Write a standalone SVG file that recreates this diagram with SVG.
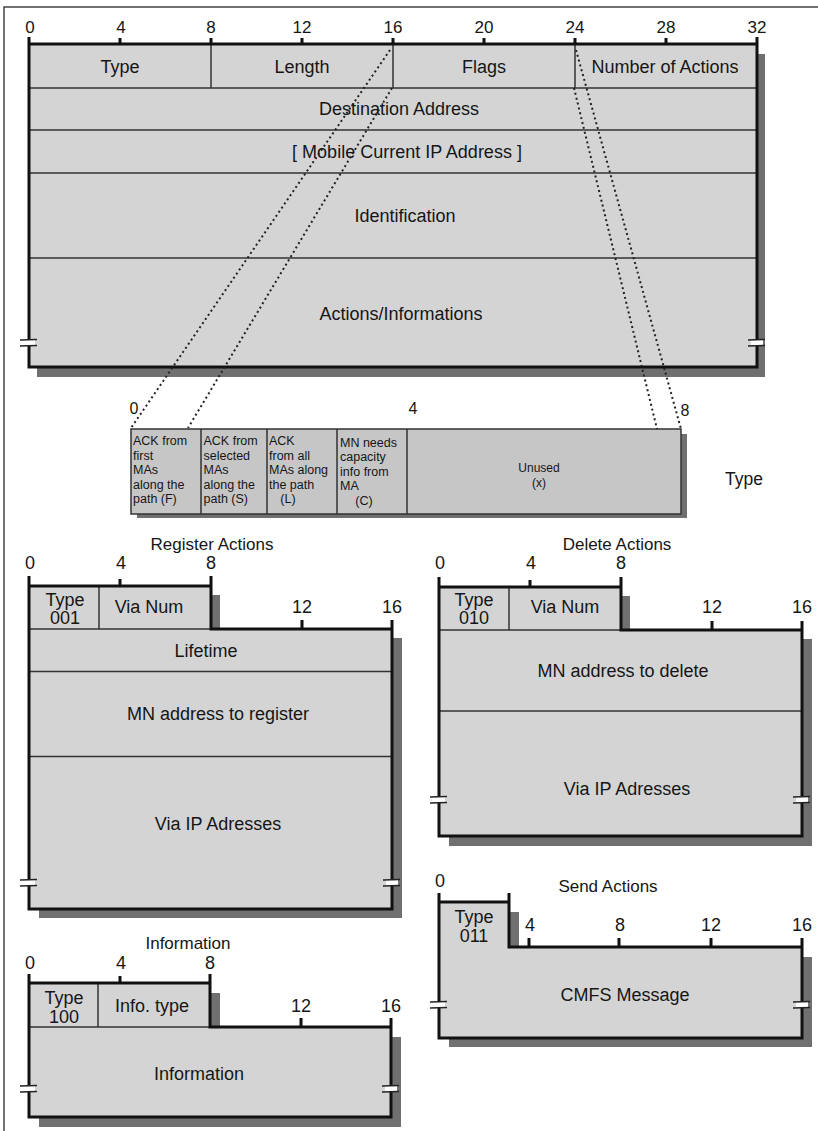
<svg xmlns="http://www.w3.org/2000/svg" width="818" height="1131" viewBox="0 0 818 1131">
<style>
.f{fill:#d4d4d4}
.fd{fill:#c6c6c6}
.sh{fill:#707070}
.k{stroke:#111;stroke-width:3;fill:none}
.r{stroke:#333;stroke-width:1.5;fill:none}
.d{stroke:#222;stroke-width:2;stroke-dasharray:2 3;fill:none}
.frame{stroke:#444;stroke-width:1.5;fill:none}
text{font-family:"Liberation Sans",Arial,Helvetica,sans-serif;fill:#161616}
.c{text-anchor:middle}
.l{font-size:18px}
.n{font-size:17px}
.m{font-size:18px}
.s{font-size:12.5px}
.u{font-size:12px}
.t{font-size:17px}
.bk{stroke:#222;stroke-width:1.5}
</style>
<defs>
<g id="brk"><rect x="-6" y="-3" width="12" height="6" fill="#fff"/><line class="bk" x1="-9" y1="-3" x2="8" y2="-3.5"/><line class="bk" x1="-9" y1="3" x2="8" y2="2.5"/></g>
</defs>
<rect width="818" height="1131" fill="#fff"/>
<path class="frame" d="M4 1131V7H818"/>

<g id="header">
<rect class="sh" x="37" y="54" width="728" height="323"/>
<rect class="f" x="29" y="44" width="728" height="323"/>
<path class="r" d="M29 88H757M29 130H757M29 173H757M29 258H757M211 44V88M393 44V88M575 44V88"/>
<path class="k" d="M29 37V367H757V37M29 44H757"/>
<path class="k" stroke-width="2.5" d="M120 38V44M211 38V44M302 38V44M393 38V44M484 38V44M575 38V44M666 38V44"/>
<use href="#brk" x="29" y="343"/>
<use href="#brk" x="757" y="343"/>
<g class="n c">
<text x="30" y="33">0</text><text x="121" y="33">4</text><text x="211" y="33">8</text><text x="302" y="33">12</text><text x="393" y="33">16</text><text x="484" y="33">20</text><text x="575" y="33">24</text><text x="666" y="33">28</text><text x="757" y="33">32</text>
</g>
<g class="l c">
<text x="120" y="72.5">Type</text>
<text x="302" y="72.5">Length</text>
<text x="484" y="72.5">Flags</text>
<text x="665" y="72.5">Number of Actions</text>
<text x="399" y="115">Destination Address</text>
<text x="407" y="158">[ Mobile Current IP Address ]</text>
<text x="405" y="222">Identification</text>
<text x="401" y="320">Actions/Informations</text>
</g>
</g>

<g id="type-flags">
<rect class="sh" x="137" y="434" width="550" height="84"/>
<rect class="fd" x="131" y="429" width="550" height="85" stroke="#333" stroke-width="1.5"/>
<path class="r" d="M201 429V514M267 429V514M337 429V514M407 429V514"/>
<g class="n c" style="font-size:16px">
<text x="134" y="414">0</text><text x="413" y="414">4</text><text x="685" y="416">8</text>
</g>
<g class="s">
<text x="133" y="445">ACK from</text><text x="133" y="459.5">first</text><text x="133" y="474">MAs</text><text x="133" y="488.5">along the</text><text x="133" y="503">path (F)</text>
<text x="203.5" y="445">ACK from</text><text x="203.5" y="459.5">selected</text><text x="203.5" y="474">MAs</text><text x="203.5" y="488.5">along the</text><text x="203.5" y="503">path (S)</text>
<text x="269" y="445">ACK</text><text x="269" y="459.5">from all</text><text x="269" y="474">MAs along</text><text x="269" y="488.5">the path</text><text x="288" y="503" class="c">(L)</text>
<text x="340" y="446.5">MN needs</text><text x="340" y="461">capacity</text><text x="340" y="475.5">info from</text><text x="340" y="490">MA</text><text x="364" y="504.5" class="c">(C)</text>
</g>
<g class="u c">
<text x="539" y="472">Unused</text><text x="539" y="487">(x)</text>
</g>
<text class="c" x="744" y="485" style="font-size:17.5px">Type</text>
</g>

<g id="register-actions">
<text class="c t" x="212" y="550">Register Actions</text>
<rect class="sh" x="39" y="595" width="181" height="40"/>
<rect class="sh" x="39" y="638" width="363" height="280"/>
<rect class="f" x="29" y="586" width="182" height="43"/>
<rect class="f" x="29" y="629" width="363" height="280"/>
<path class="r" d="M29 629H211M99 586V629M29 671.5H392M29 756.5H392"/>
<path class="k" d="M29 576V909H392V620M29 586H211M211 576V629H392M302 620V629M120 579V586"/>
<use href="#brk" x="29" y="883"/>
<use href="#brk" x="392" y="883"/>
<g class="m c">
<text x="30" y="569">0</text><text x="121" y="569">4</text><text x="211" y="569">8</text><text x="302" y="613">12</text><text x="392" y="613">16</text>
</g>
<g class="l c">
<text x="65" y="606">Type</text><text x="65" y="624">001</text>
<text x="149" y="613">Via Num</text>
<text x="206" y="657">Lifetime</text>
<text x="218" y="720">MN address to register</text>
<text x="218" y="830">Via IP Adresses</text>
</g>
</g>

<g id="delete-actions">
<text class="c t" x="617" y="550">Delete Actions</text>
<rect class="sh" x="449" y="596" width="181" height="40"/>
<rect class="sh" x="449" y="639" width="363" height="207"/>
<rect class="f" x="439" y="587" width="182" height="43"/>
<rect class="f" x="439" y="630" width="363" height="206"/>
<path class="r" d="M439 630H621M509 587V630M439 711H802"/>
<path class="k" d="M439 577V836H802V621M439 587H621M621 577V630H802M712 621V630M530 580V587"/>
<use href="#brk" x="439" y="800"/>
<use href="#brk" x="802" y="800"/>
<g class="m c">
<text x="440" y="569">0</text><text x="531" y="569">4</text><text x="621" y="569">8</text><text x="712" y="613">12</text><text x="802" y="613">16</text>
</g>
<g class="l c">
<text x="474" y="606">Type</text><text x="474" y="624">010</text>
<text x="565" y="613">Via Num</text>
<text x="623" y="677">MN address to delete</text>
<text x="627" y="795">Via IP Adresses</text>
</g>
</g>

<g id="send-actions">
<text class="c t" x="608" y="892">Send Actions</text>
<rect class="sh" x="449" y="912" width="70" height="40"/>
<rect class="sh" x="449" y="957" width="363" height="90"/>
<rect class="f" x="439" y="902" width="70" height="45"/>
<rect class="f" x="439" y="947" width="363" height="91"/>
<path class="k" d="M439 893V1038H802V938M439 902H509M509 893V947H802M529 938V947M619 938V947M711 938V947"/>
<use href="#brk" x="439" y="1005"/>
<use href="#brk" x="802" y="1005"/>
<g class="m c">
<text x="440" y="887">0</text><text x="530" y="931">4</text><text x="620" y="931">8</text><text x="711" y="931">12</text><text x="802" y="931">16</text>
</g>
<g class="l c">
<text x="474" y="923">Type</text><text x="474" y="942">011</text>
<text x="625" y="1001">CMFS Message</text>
</g>
</g>

<g id="information">
<text class="c t" x="188" y="949">Information</text>
<rect class="sh" x="39" y="993" width="181" height="40"/>
<rect class="sh" x="39" y="1037" width="362" height="90"/>
<rect class="f" x="29" y="983" width="181" height="44"/>
<rect class="f" x="29" y="1027" width="362" height="90"/>
<path class="r" d="M98 983V1027M29 1027H210"/>
<path class="k" d="M29 974V1117H391V1018M29 983H210M210 974V1027H391M120 976V983M301 1018V1027"/>
<use href="#brk" x="29" y="1089"/>
<use href="#brk" x="391" y="1089"/>
<g class="m c">
<text x="30" y="969">0</text><text x="121" y="969">4</text><text x="210" y="969">8</text><text x="301" y="1012">12</text><text x="391" y="1012">16</text>
</g>
<g class="l c">
<text x="64" y="1004">Type</text><text x="64" y="1023">100</text>
<text x="152" y="1012">Info. type</text>
<text x="199" y="1080">Information</text>
</g>
</g>

<g id="connectors">
<path class="d" d="M390 50L131 428"/>
<path class="d" d="M392 88L188 428"/>
<path class="d" d="M576 50L681 429"/>
<path class="d" d="M574 88L657 429"/>
</g>
</svg>
